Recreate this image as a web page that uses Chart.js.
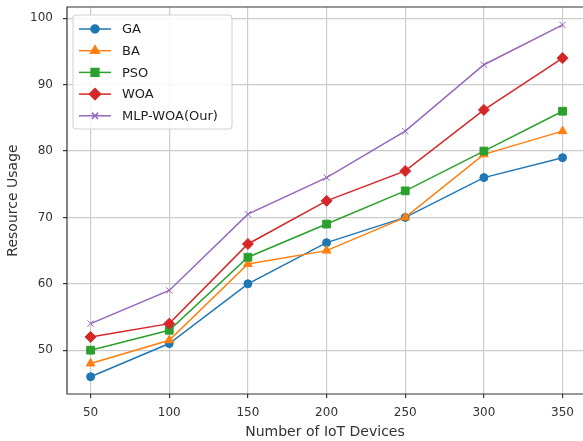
<!DOCTYPE html>
<html>
<head>
<meta charset="utf-8">
<script src="https://cdn.jsdelivr.net/npm/chart.js@4/dist/chart.umd.min.js"></script>
<style>
  html, body { margin: 0; padding: 0; background: #fff; }
  #wrap { width: 583px; height: 441px; position: relative; }
</style>
</head>
<body>
<div id="wrap"><canvas id="chart"></canvas></div>
<script>
const devices = [50, 100, 150, 200, 250, 300, 350];
const gaValues = [46, 51, 60, 66.2, 70, 76, 79];
const baValues = [48, 51.5, 63, 65, 70, 79.5, 83];
const psoValues = [50, 53, 64, 69, 74, 80, 86];
const woaValues = [52, 54, 66, 72.5, 77, 86.2, 94];
const mlpWoaValues = [54, 59, 70.5, 76, 83, 93, 99];
const seriesNames = ["GA", "BA", "PSO", "WOA", "MLP-WOA(Our)"];
const xTicks = [50, 100, 150, 200, 250, 300, 350];
const yTicks = [50, 60, 70, 80, 90, 100];

const colors = ["#1f77b4", "#ff7f0e", "#2ca02c", "#d62728", "#9467bd"];
const markers = ["circle", "triangle", "rect", "rectRot", "crossRot"];
const markerSize = [4, 5, 5.5, 5.5, 4.5];
const allValues = [gaValues, baValues, psoValues, woaValues, mlpWoaValues];

const font = "'DejaVu Sans', sans-serif";

const datasets = allValues.map((vals, i) => ({
  label: seriesNames[i],
  data: devices.map((d, j) => ({ x: d, y: vals[j] })),
  borderColor: colors[i],
  backgroundColor: colors[i],
  borderWidth: 1.5,
  pointStyle: markers[i],
  pointRadius: markerSize[i],
  pointBorderColor: colors[i],
  pointBackgroundColor: colors[i],
  pointBorderWidth: 1,
  order: allValues.length - i,
  tension: 0,
}));

// matplotlib-like frame (right spine falls outside the cropped picture)
const framePlugin = {
  id: "frame",
  afterDatasetsDraw(chart) {
    const { ctx, chartArea: a } = chart;
    ctx.save();
    ctx.strokeStyle = "#333";
    ctx.lineWidth = 1.2;
    ctx.beginPath();
    ctx.moveTo(a.right + 2, a.top);
    ctx.lineTo(a.left, a.top);
    ctx.lineTo(a.left, a.bottom);
    ctx.lineTo(a.right + 2, a.bottom);
    ctx.stroke();
    ctx.restore();
  },
};

// legend box in the upper left corner, inside the axes
const legendPlugin = {
  id: "innerLegend",
  afterDraw(chart) {
    const { ctx, chartArea: a } = chart;
    const x0 = a.left + 6, y0 = a.top + 8;
    const w = 159, rowH = 21.7, h = 114;
    ctx.save();
    ctx.fillStyle = "rgba(255,255,255,0.85)";
    ctx.strokeStyle = "#d0d0d0";
    ctx.lineWidth = 1;
    ctx.beginPath();
    ctx.roundRect(x0, y0, w, h, 3);
    ctx.fill();
    ctx.stroke();
    ctx.font = "13px " + font;
    ctx.textBaseline = "middle";
    chart.data.datasets.forEach((ds, i) => {
      const y = y0 + 14 + i * rowH;
      ctx.strokeStyle = ds.borderColor;
      ctx.lineWidth = 1.5;
      ctx.beginPath();
      ctx.moveTo(x0 + 6, y);
      ctx.lineTo(x0 + 38, y);
      ctx.stroke();
      ctx.fillStyle = ds.backgroundColor;
      Chart.helpers.drawPoint(ctx, {
        pointStyle: ds.pointStyle,
        radius: ds.pointRadius,
        rotation: 0,
        borderWidth: 1,
      }, x0 + 22, y);
      ctx.fillStyle = "#222";
      ctx.fillText(ds.label, x0 + 49, y + 1);
    });
    ctx.restore();
  },
};

new Chart(document.getElementById("chart"), {
  type: "line",
  data: { datasets },
  plugins: [framePlugin, legendPlugin],
  options: {
    responsive: true,
    maintainAspectRatio: false,
    animation: false,
    layout: { autoPadding: false, padding: { top: 7, right: 0, left: 0, bottom: 0 } },
    plugins: {
      legend: { display: false },
      tooltip: { enabled: false },
    },
    scales: {
      x: {
        type: "linear",
        min: 35,
        max: 363,
        afterBuildTicks: (s) => { s.ticks = xTicks.map((v) => ({ value: v })); },
        afterFit: (s) => { s.height = 47; s.paddingLeft = 0; s.paddingRight = 0; },
        grid: { color: "#cccccc", lineWidth: 1.2, tickColor: "#333", tickLength: 4 },
        border: { display: false },
        ticks: { color: "#333", font: { family: font, size: 12 }, padding: 8, maxRotation: 0 },
        title: { display: true, text: "Number of IoT Devices", color: "#333", font: { family: font, size: 14 }, padding: { top: 0, bottom: 0 } },
      },
      y: {
        type: "linear",
        min: 43.4,
        max: 101.7,
        afterBuildTicks: (s) => { s.ticks = yTicks.map((v) => ({ value: v })); },
        afterFit: (s) => { s.width = 67; s.paddingTop = 0; s.paddingBottom = 0; },
        grid: { color: "#cccccc", lineWidth: 1.2, tickColor: "#333", tickLength: 4 },
        border: { display: false },
        ticks: { color: "#333", font: { family: font, size: 12 }, padding: 10 },
        title: { display: true, text: "Resource Usage", color: "#333", font: { family: font, size: 14 }, padding: { top: 5, bottom: 0 } },
      },
    },
  },
});
</script>
</body>
</html>
